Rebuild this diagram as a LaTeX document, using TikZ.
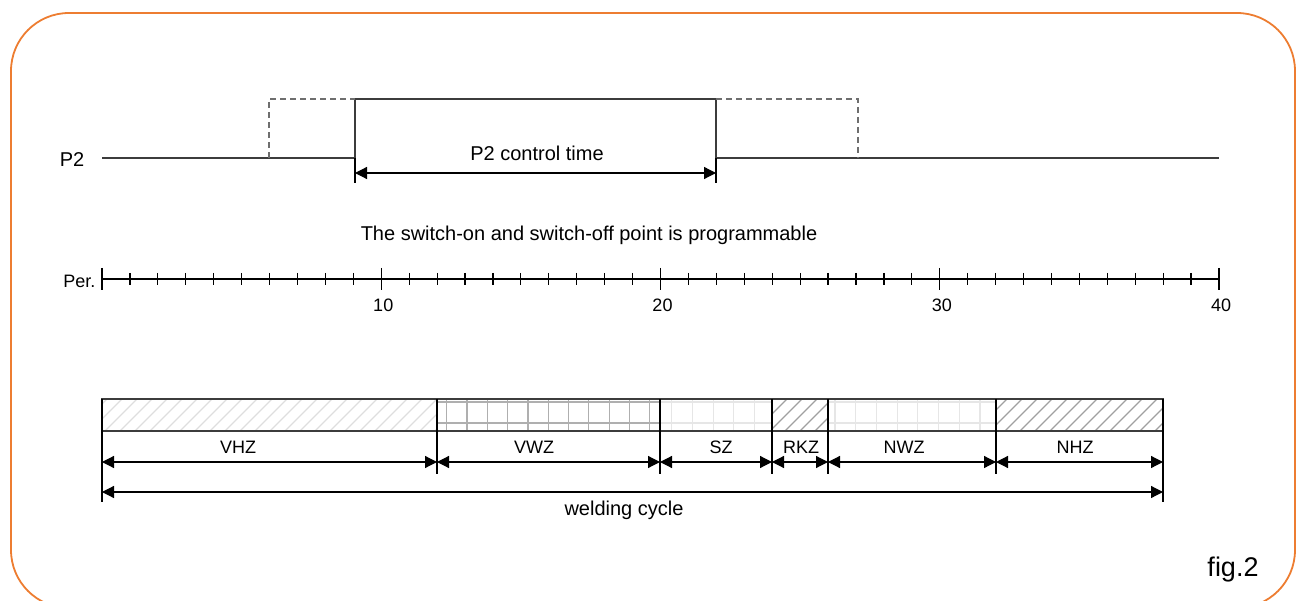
\documentclass[tikz,border=0pt]{standalone}
\usepackage{fontspec}
\setmainfont{Liberation Sans}
\usepackage{tikz}
\usetikzlibrary{arrows.meta,positioning,calc}
\definecolor{frameorange}{RGB}{237,125,49}
\definecolor{signalgray}{RGB}{60,60,60}
\definecolor{dashgray}{RGB}{110,110,110}
\definecolor{hatchlight}{RGB}{222,222,222}
\definecolor{hatchdark}{RGB}{160,160,160}
\definecolor{gridmid}{RGB}{175,175,175}
\definecolor{gridlight}{RGB}{230,230,230}

\tikzset{
    txt/.style={font=\fontsize{20}{24}\selectfont, inner sep=0pt},
    smalltxt/.style={font=\fontsize{18}{21}\selectfont, inner sep=0pt},
}

\begin{document}
\begin{tikzpicture}[x=1pt, y=-1pt, line width=1.2pt, >={Triangle[length=12pt,width=12pt]}]
    \useasboundingbox (0,0) rectangle (1301,601);
    \clip (0,0) rectangle (1301,601);

    % Frame
    \draw[frameorange, line width=1.8pt, rounded corners=58pt] (11,13) rectangle (1295,608);

    % P2 signal
    \node[txt] (p2) at (72,160) {P2};
    \coordinate (s0) at (102,158);
    \coordinate (on) at (355,158);
    \coordinate (onhi) at (355,99);
    \coordinate (offhi) at (716,99);
    \coordinate (off) at (716,158);
    \coordinate (s1) at (1219,158);
    \draw[signalgray] (s0) -- (on) -- (onhi) -- (offhi) -- (off) -- (s1);

    % Programmable range
    \coordinate (eon) at (269,158);
    \coordinate (eonhi) at (269,99);
    \coordinate (loffhi) at (858,99);
    \coordinate (loff) at (858,158);
    \draw[dashgray, dash pattern=on 6pt off 4pt] (eon) -- (eonhi) -- (onhi);
    \draw[dashgray, dash pattern=on 6pt off 4pt] (offhi) -- (loffhi) -- (loff);

    % Control time
    \coordinate (ct0) at (355,173);
    \coordinate (ct1) at (716,173);
    \draw (on) -- (355,183);
    \draw (off) -- (716,183);
    \draw[<->] (ct0) -- (ct1);
    \node[txt] (ctime) at (537,153) {P2 control time};

    \node[txt] (note) at (589,235) {The switch-on and switch-off point is programmable};

    % Period axis
    \node[smalltxt, anchor=east] (per) at (96,281) {Per.};
    \coordinate (ax0) at (102,279);
    \coordinate (ax1) at (1219,279);
    \draw (ax0) -- (ax1);
    \foreach \p in {1,...,39}
        \draw ({102+27.925*\p},273) -- ++(0,12);
    \foreach \p in {0,10,20,30,40}
        \draw ({102+27.925*\p},268) -- ++(0,22);
    \foreach \p in {10,20,30,40}
        \node[smalltxt] (n\p) at ({104+27.925*\p},305) {\p};

    % Zone fills
    \begin{scope}
        \clip (102,399) rectangle (437,431);
        \foreach \i in {60,75,...,440}
            \draw[hatchlight] (\i,431) -- ++(32,-32);
    \end{scope}
    \begin{scope}
        \clip (437,399) rectangle (660,431);
        \foreach \i in {446.7,467,...,660}
            \draw[gridmid] (\i,399) -- (\i,431);
        \draw[gridmid] (437,402) -- (660,402);
        \draw[gridmid] (437,423) -- (660,423);
    \end{scope}
    \begin{scope}
        \clip (660,399) rectangle (772,431);
        \foreach \i in {671.7,692.4,...,772}
            \draw[gridlight] (\i,399) -- (\i,431);
        \draw[gridlight] (660,402) -- (772,402);
        \draw[gridlight] (660,423) -- (772,423);
    \end{scope}
    \begin{scope}
        \clip (772,399) rectangle (828,431);
        \foreach \i in {740,755,...,830}
            \draw[hatchdark] (\i,431) -- ++(32,-32);
    \end{scope}
    \begin{scope}
        \clip (828,399) rectangle (996,431);
        \foreach \i in {835,855.7,...,996}
            \draw[gridlight] (\i,399) -- (\i,431);
        \draw[gridlight] (828,402) -- (996,402);
        \draw[gridlight] (828,423) -- (996,423);
    \end{scope}
    \begin{scope}
        \clip (996,399) rectangle (1163,431);
        \foreach \i in {960,975,...,1165}
            \draw[hatchdark] (\i,431) -- ++(32,-32);
    \end{scope}
    \draw[signalgray] (102,399) rectangle (1163,431);

    % Zone boundaries and dimensions
    \foreach \n/\x in {0/102,1/437,2/660,3/772,4/828,5/996,6/1163} {
        \coordinate (t\n) at (\x,399);
        \coordinate (a\n) at (\x,462);
    }
    \foreach \n in {1,...,5}
        \draw (t\n) -- ++(0,75);
    \draw (t0) -- ++(0,103);
    \draw (t6) -- ++(0,103);
    \foreach \a/\b in {0/1,1/2,2/3,3/4,4/5,5/6}
        \draw[<->] (a\a) -- (a\b);

    \node[smalltxt] (vhz) at (238,447) {VHZ};
    \node[smalltxt] (vwz) at (534,447) {VWZ};
    \node[smalltxt] (sz) at (721,447) {SZ};
    \node[smalltxt] (rkz) at (801,447) {RKZ};
    \node[smalltxt] (nwz) at (904,447) {NWZ};
    \node[smalltxt] (nhz) at (1075,447) {NHZ};

    % Welding cycle
    \coordinate (w0) at (102,492);
    \coordinate (w1) at (1163,492);
    \draw[<->] (w0) -- (w1);
    \node[txt] (weld) at (624,510) {welding cycle};

    \node[font=\fontsize{27}{30}\selectfont, inner sep=0pt] (fig) at (1233,570) {fig.2};
\end{tikzpicture}
\end{document}
